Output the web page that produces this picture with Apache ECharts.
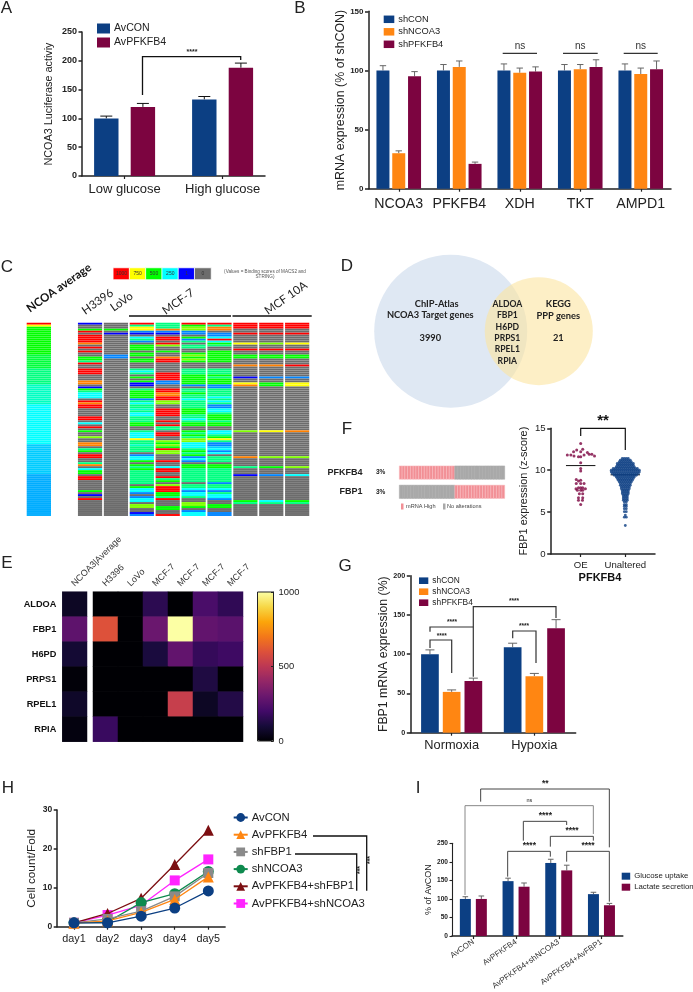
<!DOCTYPE html>
<html><head><meta charset="utf-8">
<style>html,body{margin:0;padding:0;background:#fff}#c{width:693px;height:992px}</style>
<script src="https://cdn.jsdelivr.net/npm/echarts@6/dist/echarts.min.js"></script>
</head><body><div id="c"></div>
<script>
// ---------- DATA ----------
const navy='#0c3f83', orange='#ff8612', maroon='#7c0440';
const aCats=['Low glucose','High glucose'];
const aAvCON=[100,133], aAvCONErr=[4,5];
const aAvPFKFB4=[120,188], aAvPFKFB4Err=[6,8];

const bCats=['NCOA3','PFKFB4','XDH','TKT','AMPD1'];
const bShCON=[100,100,100,100,100], bShCONErr=[4,5,5.5,5,5.5];
const bShNCOA3=[30,103,98,101,97], bShNCOA3Err=[2,5,4,4,5];
const bShPFKFB4=[95,21,99,103,101], bShPFKFB4Err=[4,1.5,4,6,7];

const gCats=['Normoxia','Hypoxia'];
const gShCON=[100,109], gShCONErr=[5.5,5];
const gShNCOA3=[52,72], gShNCOA3Err=[2.5,3.5];
const gShPFKFB4=[66,133], gShPFKFB4Err=[3.5,11];

const iCats=['AvCON','AvPFKFB4','AvPFKFB4+shNCOA3','AvPFKFB4+AvFBP1'];
const iGlucose=[100,148,197,113], iGlucoseErr=[6,8,10,5];
const iLactate=[100,133,177,83], iLactateErr=[8,10,14,5];

const hDays=['day1','day2','day3','day4','day5'];
const hAvCON=[1,1,2.7,4.8,9.2];
const hAvPFKFB4=[0.9,1.5,3.7,7,12.8];
const hShFBP1=[1,2,4,7.8,13.8];
const hShNCOA3=[1,1.2,6.2,8.5,14.2];
const hAvPFKFB4ShFBP1=[1,3.4,7.3,16,24.8];
const hAvPFKFB4ShNCOA3=[1,3,5.5,11.9,17.3];

// Panel E: score matrix
const eGenes=['ALDOA','FBP1','H6PD','PRPS1','RPEL1','RPIA'];
const eSamples=['H3396','LoVo','MCF-7','MCF-7','MCF-7','MCF-7'];
const eAverage=[60,270,90,10,70,20];
const eScores=[
 [0,0,150,0,220,160],
 [600,0,300,1000,280,260],
 [0,0,110,280,170,190],
 [0,0,0,0,120,0],
 [0,0,0,530,60,130],
 [180,0,0,0,0,0]];

// Panel C: one letter per row, top half + bottom half
const scoreCode={'.':0,b:1,a:130,j:170,k:200,c:250,t:310,s:375,m:440,g:500,l:625,y:750,o:875,r:1000};
const cAverage='ry'+'gggggggggggggg'+'mmmmmmm'+'ssssssss'+'tttttttttt'+'cccccccccccccccccccc'+'kkkkkkkkkkkkkkk'+'jjjjjjjjjjjjjjjjjjjjj';
const cH3396=['b..gr.rrrro.r.r..ggsr..rrr...oo.bgsccc.rorr....rr','.c.r.g..l..oo.sg.rr..so.cgg.rr.....g.b.r........'];
const cLoVo=['...g.b..........aa',''];
const cMCF7a=['rsyyab.csa.ggg.gg.gg...scs.g.gbb.sggggascsstsccss','sgg..scccysstsss.accg.gsgsssssss.gcca.acc.ll..baa'];
const cMCF7b=['sssoab.rr.rl..g..orr.....rrrraa..rroorrll..rrrr..','r.rss.rr..lglgrll...r..crr..rsg.lrrrggsr...gg..r'];
const cMCF7c=['rgllaa.gas.ss..glglg...sssggggga.ssgsscssssgggssc','sgg..gsgsllcccsgsgaca.ggsssssss.sscaccs..llg.acc'];
const cMCF7d=['rsoo.aacrcgs..gggggg...sssgsgggaasssscscsaaccsggg','sgg..ccsgysaakcac.sss.ggsssssssasscascca..gg..aa'];
const cMCF10a=['rrr..r....y..r..gg...o.....b..yo','.....l............o....s...b............gs'];
const cMCF10b=['rrr..r....l..r..gg...o.....a..gg','.....y............l....g...a............cs'];
const cMCF10c=['rrr..r....y..r..gg...r.....a..yy','.....o............l....l...c............gs'];
const cLegendValues=[1000,750,500,250,1,0];

// Panel D
const vennLeft=['ChIP-Atlas','NCOA3 Target genes','3990'];
const vennMiddle=['ALDOA','FBP1','H6PD','PRPS1','RPEL1','RPIA'];
const vennRight=['KEGG','PPP genes','21'];

// Panel F
const oncoGenes=['FBP1','PFKFB4'];
const oncoPFKFB4='hhhhhhhhhhhhhhhhhhhh..................';
const oncoFBP1='....................hhhhhhhhhhhhhhhhhh';
const fCats=['OE','Unaltered'];
const fOEValues=[13.2,12.4,12.5,12.2,12.2,12.1,11.8,11.8,11.7,11.6,11.6,11.8,11.9,11.9,11.7,10.9,10.2,9.9,8.9,8.8,8.7,8.4,8.4,8.4,7.9,7.9,7.9,7.8,7.8,7.6,7.6,7.6,7.2,7.2,6.7,6.7,6.4,6.4,5.9];
const fOEOffsets=[0,-0.09,0.045,-0.16,0,0.15,-0.3,-0.22,-0.15,-0.05,0,0.075,0.19,0.25,0.31,0,0,0,-0.1,0,-0.05,-0.1,0,0.075,-0.05,0,0.045,0.105,-0.105,-0.075,0,0.045,-0.03,0.045,-0.05,0.045,-0.05,0.04,0];
const fSwarmLevels=[11.4,11.2,11,10.8,10.6,10.4,10.2,10,9.8,9.6,9.4,9.2,9,8.8,8.6,8.4,8.2,8,7.8,7.6,7.4,7.2,7,6.8,6.6,6.4,6.2,5.9,5.7,5.4,5.05,4.65,4.4,3.4];
const fSwarmCounts=[4,6,7,9,9,10,13,15,15,14,12,10,9,8,7,6,6,5,5,4,4,4,3,3,3,3,2,2,2,2,2,1,2,1];
const fMeans=[10.55,9.45];

// ---------- HELPERS ----------
const FONT='"Liberation Sans",Arial,sans-serif', LATO='Lato,"Open Sans",sans-serif';
const axisCol='#222';
const opt={animation:false,backgroundColor:'#fff',textStyle:{fontFamily:FONT},
  grid:[],xAxis:[],yAxis:[],series:[],legend:[],visualMap:[],graphic:{elements:[]}};
function cart(r,x,y){const i=opt.grid.length;
  opt.grid.push({left:r[0],top:r[1],width:r[2],height:r[3]});
  opt.xAxis.push(Object.assign({gridIndex:i},x));opt.yAxis.push(Object.assign({gridIndex:i},y));return i;}
const line=(w=1.5)=>({show:true,onZero:false,lineStyle:{color:axisCol,width:w}});
const hide={show:false};
function valY(min,max,interval,font,name,nameFont,nameGap,w=1.5,tick=3.5,margin=5){return{type:'value',min,max,interval,
  axisLine:line(w),axisTick:{show:true,length:tick,lineStyle:{color:axisCol,width:w}},splitLine:hide,
  axisLabel:{fontSize:font,fontWeight:'bold',color:'#222',margin},
  name,nameLocation:'middle',nameGap,nameTextStyle:{fontSize:nameFont,color:'#222'}};}
function catX(data,font,margin,extra){return Object.assign({type:'category',data,axisLine:line(),
  axisTick:{show:true,alignWithLabel:true,length:3,lineStyle:{color:axisCol,width:1.2}},splitLine:hide,
  axisLabel:{fontSize:font,color:'#222',margin,interval:0}},extra||{});}
function barSeries(g,names,vals,errs,colors,barW,pitch,wCol,cap){
  const n=names.length;
  names.forEach((nm,j)=>{
    opt.series.push({type:'bar',name:nm,xAxisIndex:g,yAxisIndex:g,data:vals[j],barWidth:barW,
      barGap:((pitch-barW)/barW*100)+'%',itemStyle:{color:colors[j]},silent:true});
    const off=(j-(n-1)/2)*pitch;
    opt.series.push({type:'custom',xAxisIndex:g,yAxisIndex:g,silent:true,z:1,
      data:vals[j].map((v,i)=>[i,v,errs[j][i]]),encode:{x:0,y:1},
      renderItem:(p,api)=>{const c=api.value(0),v=api.value(1),e=api.value(2);
        const a=api.coord([c,v+e]),b=api.coord([c,v]);const x=a[0]+off;
        const st={stroke:wCol,lineWidth:1,fill:null};
        return{type:'group',children:[
          {type:'line',shape:{x1:x,y1:b[1],x2:x,y2:a[1]},style:st},
          {type:'line',shape:{x1:x-cap,y1:a[1],x2:x+cap,y2:a[1]},style:st}]};}});
  });
}
function leg(names,left,top,w,h,gap,font,icon){const l={data:names,left,top,orient:'vertical',padding:0,itemWidth:w,itemHeight:h,itemGap:gap,
  itemStyle:{borderWidth:0},selectedMode:false,textStyle:{fontSize:font,color:'#222',padding:[0,0,0,-1]}};if(icon)l.icon=icon;opt.legend.push(l);}
const G=opt.graphic.elements;
function txt(t,x,y,font,o){o=o||{};G.push({type:'text',x,y,rotation:(o.rot||0)*Math.PI/180,silent:true,
  style:{text:t,font:font,fill:o.fill||'#222',align:o.align||'center',verticalAlign:'middle'}});}
function path(pts,col,w){G.push({type:'polyline',silent:true,shape:{points:pts},style:{stroke:col||'#111',lineWidth:w||1.3,fill:null}});}
const letter=(t,x,y)=>txt(t,x,y,'17px '+FONT,{fill:'#222'});
[['A',6.5,8],['B',300,8],['C',7,267],['D',347,266],['E',7,563],['F',347,429],['G',345,566],['H',8,788],['I',418,788]].forEach(a=>letter(...a));

// ---------- A ----------
cart([82,32,183,144],{type:'value',min:0,max:1,axisLine:line(),axisTick:hide,axisLabel:hide,splitLine:hide},
  valY(0,250,50,9,'NCOA3 Luciferase activiy',10.8,27));
let g=cart([75.6,32,196,144],catX(aCats,13,7,{axisLine:hide}),{type:'value',min:0,max:250,show:false});
barSeries(g,['AvCON ','AvPFKFB4 '],[aAvCON,aAvPFKFB4],[aAvCONErr,aAvPFKFB4Err],[navy,maroon],24.4,36.6,'#111',6);
leg(['AvCON ','AvPFKFB4 '],97,23,13,10,3,10.6,'rect');
path([[142.5,95],[142.5,56.7],[240.7,56.7],[240.7,60]],'#111',1.3);
txt('****',192,52,'bold 7px '+FONT);

// ---------- B ----------
g=cart([368.5,11.3,302.5,177.4],catX(bCats,14.2,8),valY(0,150,50,8,'mRNA expression (% of shCON)',12.4,16.5));
barSeries(g,['shCON','shNCOA3','shPFKFB4'],[bShCON,bShNCOA3,bShPFKFB4],[bShCONErr,bShNCOA3Err,bShPFKFB4Err],[navy,orange,maroon],13,15.8,'#666',3.2);
leg(['shCON','shNCOA3','shPFKFB4'],383.7,14.8,10.6,7.5,3.5,9.3,'rect');
[[502.7,537,520],[563,597.7,580.3],[623.7,657.7,640.7]].forEach(a=>{path([[a[0],53.3],[a[1],53.3]],'#333',1.3);txt('ns',a[2],46.5,'10px '+FONT,{fill:'#333'});});

// ---------- C ----------
const pad=(s,n)=>s.padEnd(n,'.').slice(0,n);
const rows97=Array.from({length:97},(_,i)=>String(i));
const cCols=[cH3396,cLoVo,cMCF7a,cMCF7b,cMCF7c,cMCF7d,cMCF10a,cMCF10b,cMCF10c];
function rectSeries(gi,data,fw){return{type:'custom',xAxisIndex:gi,yAxisIndex:gi,data,encode:{x:0,y:1},silent:true,progressive:0,
  renderItem:(p,api)=>{const c=api.coord([api.value(0),api.value(1)]),sx=api.size([1,0])[0],sy=api.size([0,1])[1],w=sx*fw;
    return{type:'rect',shape:{x:c[0]-w/2,y:c[1]-sy/2+0.04,width:w,height:sy-0.08},style:{fill:api.visual('color')}};}};}
const hidCat=(d,inv)=>({type:'category',data:d,show:false,inverse:!!inv});
const cSeriesIdx=[];
g=cart([26.7,322.7,24.3,193.3],hidCat(['avg']),hidCat(rows97,true));
cSeriesIdx.push(opt.series.length);
opt.series.push(rectSeries(g,cAverage.split('').map((k,r)=>[0,r,scoreCode[k]]),1));
g=cart([77.1,322.7,233,193.3],hidCat(cCols.map((_,i)=>i)),hidCat(rows97,true));
cSeriesIdx.push(opt.series.length);
const cData=[];cCols.forEach((col,ci)=>{(pad(col[0],49)+pad(col[1],48)).split('').forEach((k,r)=>cData.push([ci,r,scoreCode[k]]));});
opt.series.push(rectSeries(g,cData,0.935));
g=cart([113.3,268,97.7,11.5],hidCat(cLegendValues),hidCat(['s']));
cSeriesIdx.push(opt.series.length);
opt.series.push({type:'heatmap',xAxisIndex:g,yAxisIndex:g,silent:true,data:cLegendValues.map((v,i)=>[i,0,v]),
  itemStyle:{borderColor:'#fff',borderWidth:0.8},
  label:{show:true,fontSize:5,color:'#333',formatter:p=>p.value[2]}});
opt.visualMap.push({type:'continuous',show:false,min:0,max:1000,range:[1,1000],dimension:2,seriesIndex:cSeriesIdx,
  inRange:{color:['#0000ff','#00ffff','#00ff00','#ffff00','#ff0000']},outOfRange:{color:'#6c6c6c'}});
txt('(Values = Binding scores of MACS2 and\nSTRING)',265,274.5,'4.6px '+FONT,{fill:'#555'});
txt('NCOA average',59,288,'bold 11.5px '+LATO,{rot:35,fill:'#111'});
txt('H3396',97.6,301.7,'11.5px '+LATO,{rot:35});
txt('LoVo',121.7,301.7,'11.5px '+LATO,{rot:35});
txt('MCF-7',178.3,301.7,'11.5px '+LATO,{rot:35});
txt('MCF 10A',286,298,'11.5px '+LATO,{rot:35});
path([[129,316],[231,316]],'#111',1.5);path([[232.5,316],[311.7,316]],'#111',1.5);

// ---------- D ----------
G.push({type:'circle',silent:true,shape:{cx:450.7,cy:331.2,r:76.5},style:{fill:'#dfe8f3'}});
G.push({type:'circle',silent:true,shape:{cx:538.8,cy:331.2,r:54},style:{fill:'rgba(252,228,160,0.6)'}});
const dF='bold 9.3px '+LATO;
vennLeft.forEach((t,i)=>txt(t,i==0?436.7:430.3,[303.7,315.3,338][i],dF));
vennMiddle.forEach((t,i)=>txt(t,507.3,304.3+i*11.3,'bold 8.6px '+LATO));
vennRight.forEach((t,i)=>txt(t,558.3,[304.3,315.7,338][i],dF));

// ---------- E ----------
const eInd=[];
const eY=Object.assign(hidCat(eGenes,true),{show:true,axisLine:hide,axisTick:hide,splitLine:hide,axisLabel:{fontSize:9.2,fontWeight:'bold',color:'#111',margin:6}});
const eX=d=>({type:'category',data:d,show:false});
g=cart([62.3,591.7,24.7,150],eX(['NCOA3|Average']),eY);
eInd.push(opt.series.length);
opt.series.push({type:'heatmap',xAxisIndex:g,yAxisIndex:g,silent:true,data:eAverage.map((v,r)=>[0,r,v])});
txt('NCOA3|Average',73,585,'9px '+FONT,{rot:45,align:'left',fill:'#333'});
g=cart([93,591.7,150,150],eX(eSamples.map((s,i)=>s+'#'+i)),Object.assign({},eY,{axisLabel:{show:false}}));
eSamples.forEach((s,i)=>txt(s,104+i*25,585,'9px '+FONT,{rot:45,align:'left',fill:'#333'}));
eInd.push(opt.series.length);
const eData=[];eScores.forEach((row,r)=>row.forEach((v,c)=>eData.push([c,r,v])));
opt.series.push({type:'heatmap',xAxisIndex:g,yAxisIndex:g,silent:true,data:eData});
opt.visualMap.push({type:'continuous',show:true,min:0,max:1000,dimension:2,seriesIndex:eInd,left:257.5,top:592,itemWidth:16,itemHeight:149,padding:0,
  calculable:false,text:null,showLabel:false,z:1,
  inRange:{color:['#000004','#160b39','#420a68','#6a176e','#932667','#bc3754','#dd513a','#f37819','#fca50a','#f6d746','#fcffa4']}});
g=cart([257.5,592,16,149],{type:'value',min:0,max:1,show:false},{type:'value',min:0,max:1000,interval:500,position:'right',z:6,
  axisLine:line(1),axisTick:{show:true,length:2.5,inside:true,lineStyle:{color:axisCol}},splitLine:hide,axisLabel:{fontSize:9.4,color:'#222',margin:5,formatter:v=>String(v)}});
opt.grid[g].show=true;opt.grid[g].borderColor='#222';opt.grid[g].borderWidth=1;opt.grid[g].z=6;

// ---------- F oncoprint ----------
const oncoColor={h:'#f28f95','.':'#a9a9a9'},oncoEdge={h:'#f8bfc2','.':'#a9a9a9'};
g=cart([399.3,463,105.4,38.4],hidCat(oncoPFKFB4.split('').map((_,i)=>i)),
  {type:'category',data:oncoGenes,axisLine:hide,axisTick:hide,splitLine:hide,
   axisLabel:{margin:14,formatter:v=>'{n|'+v+'}    {p|3%}',rich:{n:{fontSize:9,fontWeight:'bold',color:'#222'},p:{fontSize:6.5,color:'#222',fontWeight:'bold'}}}});
const oncoData=[];
oncoFBP1.split('').forEach((k,i)=>oncoData.push([i,0,k]));
oncoPFKFB4.split('').forEach((k,i)=>oncoData.push([i,1,k]));
opt.series.push({type:'custom',xAxisIndex:g,yAxisIndex:g,silent:true,progressive:0,
  data:oncoData.map(d=>[d[0],d[1],d[2]=='h'?1:0]),encode:{x:0,y:1},
  renderItem:(p,api)=>{const c=api.coord([api.value(0),api.value(1)]),sx=api.size([1,0])[0],k=api.value(2)?'h':'.';
    return{type:'rect',shape:{x:c[0]-sx/2,y:c[1]-6.65,width:sx,height:13.3},style:{fill:oncoColor[k],stroke:oncoEdge[k],lineWidth:0.5}};}});
G.push({type:'rect',silent:true,shape:{x:401,y:503.5,width:2.5,height:6},style:{fill:'#f28f95'}});
G.push({type:'rect',silent:true,shape:{x:443,y:503.5,width:2.5,height:6},style:{fill:'#a9a9a9'}});
txt('mRNA High',406,506.7,'5.6px '+FONT,{align:'left',fill:'#444'});
txt('No alterations',447,506.7,'5.6px '+FONT,{align:'left',fill:'#444'});

// ---------- F swarm ----------
const fx0=1-(580.7-550.7)/44.6, fx1=2+(655-625.3)/44.6;
g=cart([550.7,428.3,104.3,125.7],{type:'value',min:fx0,max:fx1,axisLine:line(),axisTick:hide,axisLabel:hide,splitLine:hide},
  valY(0,15,5,9.6,'FBP1 expression (z-score)',10.9,21));
opt.yAxis[g].axisLabel.fontWeight='normal';
opt.series.push({type:'scatter',xAxisIndex:g,yAxisIndex:g,silent:true,symbolSize:3,itemStyle:{color:maroon},
  data:fOEValues.map((v,i)=>[1+fOEOffsets[i],v])});
const swarm=[];fSwarmLevels.forEach((v,i)=>{const n=fSwarmCounts[i];for(let j=0;j<n;j++)swarm.push([2+(j-(n-1)/2)*0.045,v]);});
opt.series.push({type:'scatter',xAxisIndex:g,yAxisIndex:g,silent:true,symbolSize:2.8,itemStyle:{color:navy},data:swarm});
[0,1].forEach(i=>opt.series.push({type:'line',xAxisIndex:g,yAxisIndex:g,silent:true,symbol:'none',z:i?1:3,lineStyle:{color:'#111',width:1},
  data:[[i+1-0.33,fMeans[i]],[i+1+0.33,fMeans[i]]]}));
cart([558.4,428.3,89.2,125.7],catX(fCats,9.6,6,{axisLine:hide}),{type:'value',min:0,max:15,show:false});
path([[580.7,436],[580.7,428.3],[625.3,428.3],[625.3,450]],'#111',1.2);
txt('**',603,421,'bold 15px '+FONT,{fill:'#111'});
txt('PFKFB4',600,578,'bold 11px '+FONT,{fill:'#111'});

// ---------- G ----------
g=cart([410.3,575.7,165.4,157],catX(gCats,12.8,6),valY(0,200,50,7.2,'FBP1 mRNA expression (%)',12.3,18));
barSeries(g,['shCON','shNCOA3','shPFKFB4'],[gShCON,gShNCOA3,gShPFKFB4],[gShCONErr,gShNCOA3Err,gShPFKFB4Err],[navy,orange,maroon],17.7,21.7,'#666',4.5);
leg(['shCON','shNCOA3','shPFKFB4'],419,576.7,9.3,6.6,3,8.4,'rect');
path([[430,648],[430,640],[451.7,640],[451.7,673]],'#333',1.2);
path([[430,631.7],[430,627],[473.3,627]],'#333',1.2);
path([[473.3,676.7],[473.3,606.7],[556,606.7],[556,618]],'#333',1.2);
path([[512.7,638.3],[512.7,631],[536,631],[536,663]],'#333',1.2);
[[514,601.7],[452,622.7],[441.7,636],[524,626.7]].forEach(a=>txt('****',a[0],a[1],'bold 6.5px '+FONT));

// ---------- H ----------
const hNames=['AvCON','AvPFKFB4','shFBP1','shNCOA3 ','AvPFKFB4+shFBP1','AvPFKFB4+shNCOA3'];
const hVals=[hAvCON,hAvPFKFB4,hShFBP1,hShNCOA3,hAvPFKFB4ShFBP1,hAvPFKFB4ShNCOA3];
const hCols=[navy,'#ff8612','#8a8a8a','#0e8a4e','#7c0f12','#ff24ff'];
const hSyms=['circle','triangle','rect','circle','triangle','rect'];
const hSize=[11,11,10,11,11,10];
g=cart([57.2,810,167.9,116.7],catX(hDays,10.8,7),valY(0,30,10,8.5,'Cell count/Fold',11.8,19.5));
opt.xAxis[g].boundaryGap=true;
hNames.forEach((nm,i)=>opt.series.push({type:'line',name:nm,xAxisIndex:g,yAxisIndex:g,data:hVals[i],silent:true,
  symbol:hSyms[i],symbolSize:hSize[i],z:10-i,color:hCols[i],lineStyle:{color:hCols[i],width:1.3},itemStyle:{color:hCols[i]}}));
leg(hNames,232.7,812,14,11,6.2,11.3);
path([[313,836],[366.7,836],[366.7,890.7]],'#111',1.3);
path([[295,854],[356.7,854],[356.7,890.7]],'#111',1.3);
txt('***',360.5,870,'bold 7px '+FONT,{rot:90});
txt('***',370.5,860,'bold 7px '+FONT,{rot:90});

// ---------- I ----------
g=cart([452,843.3,170.8,98.4],catX(iCats,8,5,{}),valY(0,250,50,6.6,'% of AvCON',9,14,1.1,2.5,4));
opt.xAxis[g].axisLabel.rotate=35;opt.xAxis[g].axisLabel.color='#333';
barSeries(g,['Glucose uptake','Lactate secretion'],[iGlucose,iLactate],[iGlucoseErr,iLactateErr],[navy,maroon],11,16,'#666',2.8);
leg(['Glucose uptake','Lactate secretion'],621.7,872.2,8.5,7,3,7.8,'rect');
const zI=(x,y)=>[370+x/3,710+y/3];
const iBr=[
 [[[332,275],[332,237],[718,237],[718,412]],'#444',[526,222],'**','bold 8.5px '],
 [[[285,555],[285,287],[670,287],[670,372]],'#888',[478,270],'ns','5.5px '],
 [[[460,392],[460,334],[590,334],[590,345]],'#444',[526,317],'****','bold 8.5px '],
 [[[541,410],[541,379],[670,379],[670,392]],'#444',[606,362],'****','bold 8.5px '],
 [[[413,500],[413,424],[541,424],[541,440]],'#444',[478,408],'****','bold 8.5px '],
 [[[590,455],[590,424],[718,424],[718,575]],'#444',[654,408],'****','bold 8.5px ']];
iBr.forEach(b=>{path(b[0].map(p=>zI(p[0],p[1])),b[1],1);const t=zI(b[2][0],b[2][1]);txt(b[3],t[0],t[1],b[4]+FONT,{fill:'#222'});});

echarts.init(document.getElementById('c'),null,{renderer:'canvas'}).setOption(opt);
</script></body></html>
